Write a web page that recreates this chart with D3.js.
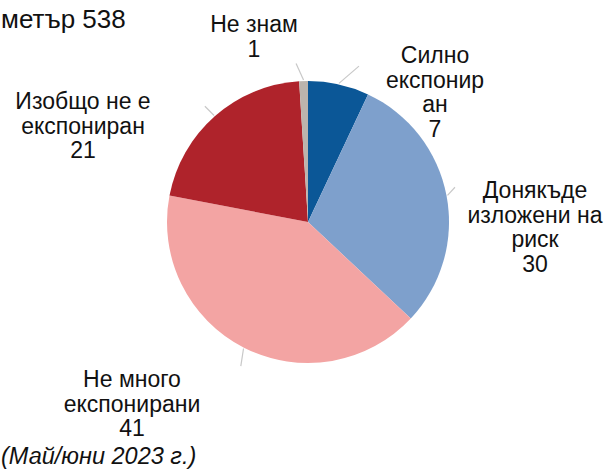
<!DOCTYPE html>
<html>
<head>
<meta charset="utf-8">
<script src="https://cdn.jsdelivr.net/npm/d3@7"></script>
<style>
  html, body { margin: 0; padding: 0; background: #fff; }
  svg { display: block; }
  text { font-family: "Liberation Sans", Arial, sans-serif; fill: #111; }
</style>
</head>
<body>
<svg id="chart" width="604" height="470"></svg>
<script>
// ---- data ----
const categories = ["Силно експониран", "Донякъде изложени на риск", "Не много експонирани", "Изобщо не е експониран", "Не знам"];
const labelLines = [["Силно", "експонир", "ан"], ["Донякъде", "изложени на", "риск"], ["Не много", "експонирани"], ["Изобщо не е", "експониран"], ["Не знам"]];
const values = [7, 30, 41, 21, 1];
const colors = ["#0B5797", "#7EA0CC", "#F3A4A3", "#AF232B", "#BCB4AD"];
const titleText = "метър 538";
const footnoteText = "(Май/юни 2023 г.)";

// ---- layout ----
const W = 604, H = 470;
const cx = 308, cy = 222, R = 141;
const fontSize = 23, lineH = 24.5;
// label anchor (centre x, first baseline y) per slice
const labelPos = [[435, 63], [535, 198], [132, 387], [83, 109], [254, 32]];
// leader line: end radius and angular offset (deg)
const leader = [[164, 5.5], [151, -2.5], [159, -2], [155, -0.3], [159, -2.5]];

const svg = d3.select("#chart");

const pie = d3.pie().sort(null).value(d => d)(values);
const arc = d3.arc().innerRadius(0).outerRadius(R);

const g = svg.append("g").attr("transform", `translate(${cx},${cy})`);
g.selectAll("path.slice")
  .data(pie)
  .join("path")
  .attr("class", "slice")
  .attr("d", arc)
  .attr("fill", (d, i) => colors[i])
  .attr("stroke", "none");

// leader lines
g.selectAll("line.leader")
  .data(pie)
  .join("line")
  .attr("class", "leader")
  .each(function(d, i) {
    const mid = (d.startAngle + d.endAngle) / 2;
    const a2 = mid + leader[i][1] * Math.PI / 180;
    d3.select(this)
      .attr("x1", Math.sin(mid) * (R + 1))
      .attr("y1", -Math.cos(mid) * (R + 1))
      .attr("x2", Math.sin(a2) * leader[i][0])
      .attr("y2", -Math.cos(a2) * leader[i][0]);
  })
  .attr("stroke", "#c8c8c8")
  .attr("stroke-width", 1.2);

// labels
const lab = svg.selectAll("text.lbl")
  .data(pie)
  .join("text")
  .attr("class", "lbl")
  .attr("text-anchor", "middle")
  .attr("font-size", fontSize);
lab.each(function(d, i) {
  const t = d3.select(this);
  const lines = labelLines[i].concat([String(values[i])]);
  lines.forEach((s, k) => {
    t.append("tspan")
      .attr("x", labelPos[i][0])
      .attr("y", labelPos[i][1] + k * lineH)
      .text(s);
  });
});

// title
svg.append("text")
  .attr("x", 1).attr("y", 28)
  .attr("font-size", 26)
  .text(titleText);

// footnote
svg.append("text")
  .attr("x", 1).attr("y", 464)
  .attr("font-size", 23.5)
  .attr("font-style", "italic")
  .text(footnoteText);
</script>
</body>
</html>
